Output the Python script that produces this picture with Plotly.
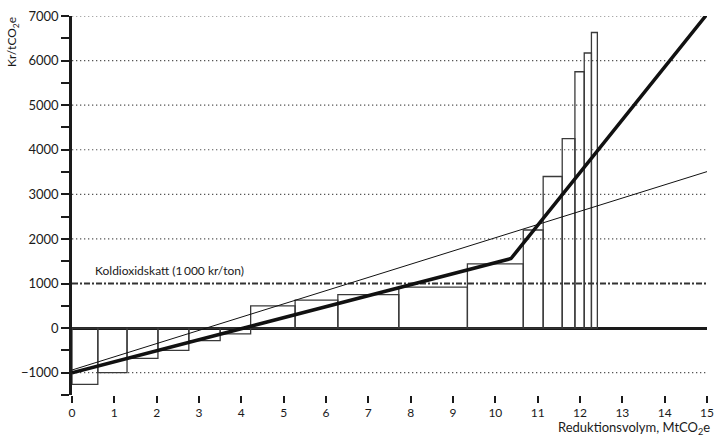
import plotly.graph_objects as go

# Marginal abatement cost steps: boundaries of each measure along the
# cumulative reduction volume (MtCO2e) and its cost (kr/tCO2e)
step_edges = [0, 0.61, 1.30, 2.03, 2.76, 3.50, 4.22, 5.27, 6.28, 7.72, 9.34,
              10.66, 11.13, 11.58, 11.88, 12.10, 12.27, 12.41]
step_costs = [-1260, -1000, -680, -500, -280, -130, 500, 630, 750, 920, 1440,
              2200, 3400, 4250, 5750, 6170, 6630]

# Fitted cost curves
kinked_x = [0, 10.37, 15]
kinked_y = [-1000, 1560, 7040]
linear_x = [0, 15]
linear_y = [-940, 3510]

# Reference levels
grid_levels = [-1000, 2000, 3000, 4000, 5000, 6000, 7000]
tax_level = 1000
tax_label = "Koldioxidskatt (1\u2009000 kr/ton)"

y_ticks = [-1000, 0, 1000, 2000, 3000, 4000, 5000, 6000, 7000]
x_ticks = list(range(0, 16))

centers = [(a + b) / 2 for a, b in zip(step_edges[:-1], step_edges[1:])]
widths = [b - a for a, b in zip(step_edges[:-1], step_edges[1:])]

FONT = "Lato, 'Open Sans', sans-serif"
INK = "#1a1a1a"

fig = go.Figure()

fig.add_trace(go.Bar(
    x=centers, y=step_costs, width=widths,
    marker=dict(color="rgba(0,0,0,0)", line=dict(color="#3a3a3a", width=1.3)),
    hoverinfo="skip", showlegend=False,
))

fig.add_trace(go.Scatter(
    x=linear_x, y=linear_y, mode="lines",
    line=dict(color="#111", width=1), showlegend=False,
))

fig.add_trace(go.Scatter(
    x=kinked_x, y=kinked_y, mode="lines",
    line=dict(color="#111", width=3.5), showlegend=False,
))

for lv in grid_levels:
    fig.add_shape(type="line", xref="x", yref="y", x0=0, x1=15, y0=lv, y1=lv,
                  line=dict(color="#555", width=1.2, dash="1.3px,2.7px"),
                  layer="below")

fig.add_shape(type="line", xref="x", yref="y", x0=0, x1=15,
              y0=tax_level, y1=tax_level,
              line=dict(color="#333", width=2, dash="6px,2px,2px,2px"),
              layer="below")

fig.add_annotation(x=0.49, y=tax_level, xref="x", yref="y", text=tax_label,
                   showarrow=False, xanchor="left", yanchor="bottom", yshift=4,
                   font=dict(family=FONT, size=12, color=INK))

fig.add_annotation(x=1, y=0, xref="paper", yref="paper",
                   text="Reduktionsvolym, MtCO<sub>2</sub>e",
                   showarrow=False, xanchor="right", yanchor="bottom",
                   xshift=5, yshift=-44,
                   font=dict(family=FONT, size=13, color=INK))

fig.add_annotation(x=0, y=1, xref="paper", yref="paper",
                   text="Kr/tCO<sub>2</sub>e", textangle=-90,
                   showarrow=False, xanchor="center", yanchor="top",
                   xshift=-60, yshift=1,
                   font=dict(family=FONT, size=12, color=INK))

fig.update_layout(
    width=722, height=439,
    margin=dict(l=72, r=8, t=16, b=44),
    plot_bgcolor="white", paper_bgcolor="white",
    font=dict(family=FONT, size=13, color=INK),
    showlegend=False,
    xaxis=dict(
        range=[0, 15], tickvals=x_ticks, ticks="outside", ticklen=7,
        tickwidth=1.5, tickcolor=INK, showline=False, showgrid=False,
        zeroline=False, tickfont=dict(size=12),
    ),
    yaxis=dict(
        range=[-1500, 7000], tickvals=y_ticks, ticks="outside", ticklen=8,
        tickwidth=2, tickcolor=INK, showline=True, linewidth=2.5,
        linecolor=INK, showgrid=False, zeroline=True, zerolinecolor=INK,
        zerolinewidth=2.5, tickfont=dict(size=13),
        minor=dict(ticks="outside", ticklen=8, tickwidth=2, tickcolor=INK,
                   dtick=500, tick0=0, showgrid=False),
    ),
)

fig.write_html("out.html")
